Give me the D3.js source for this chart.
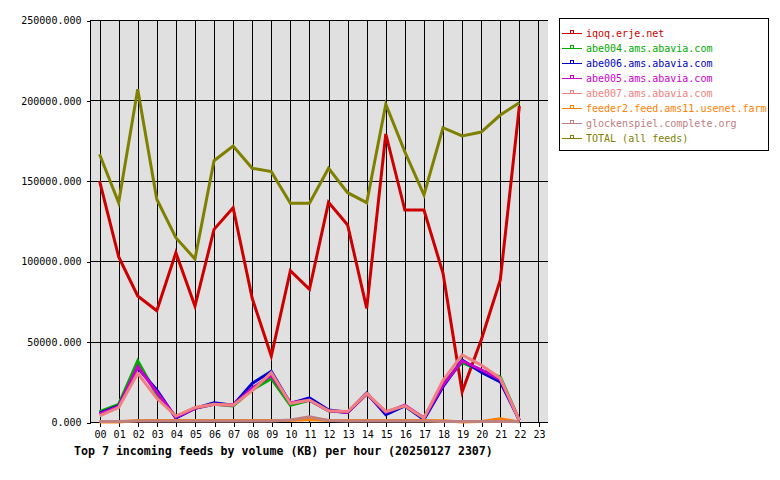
<!DOCTYPE html>
<html>
<head>
<meta charset="utf-8">
<script src="https://cdn.jsdelivr.net/npm/d3@7/dist/d3.min.js"></script>
<style>
  html, body { margin: 0; padding: 0; background: #fff; }
  svg { display: block; }
  text { font-family: "DejaVu Sans Mono", "Liberation Mono", monospace; }
</style>
</head>
<body>
<svg id="chart" width="780" height="480"></svg>
<script>
// ---------- data ----------
const hourLabels = ["00","01","02","03","04","05","06","07","08","09","10","11",
                    "12","13","14","15","16","17","18","19","20","21","22","23"];
const yTicks = [0, 50000, 100000, 150000, 200000, 250000];

const seriesNames = [
  "iqoq.erje.net",
  "abe004.ams.abavia.com",
  "abe006.ams.abavia.com",
  "abe005.ams.abavia.com",
  "abe007.ams.abavia.com",
  "feeder2.feed.ams11.usenet.farm",
  "glockenspiel.complete.org",
  "TOTAL (all feeds)"
];
const seriesColors = ["#cc0000","#00aa00","#0000cc","#cc00cc","#f08080","#ff8000","#c08080","#808000"];

const iqoq   = [150000,102800,78400,69200,105300,72100,119800,133300,76900,41000,94100,82500,
                136600,122500,70700,179100,131800,131800,92500,18800,51000,88300,196500];
const abe004 = [6500,11000,38000,17000,3500,8500,11000,10000,20000,27000,10400,13500,
                7000,6000,17500,6000,10000,2500,24000,37000,32000,28000,1000];
const abe006 = [5500,10000,33500,20000,2500,8500,12000,10500,24000,31500,11500,15000,
                7500,6000,18000,4500,10000,1500,22000,38500,31000,25000,1000];
const abe005 = [5000,9500,34500,18500,3000,8500,11000,10500,21000,29000,12000,13500,
                7000,6000,17500,6000,10500,2500,23000,38000,32500,26500,1000];
const abe007 = [3800,9000,30300,14700,3700,9000,11000,10500,19500,30700,11500,13700,
                7000,6500,17800,6500,10000,2500,26000,41700,35500,27200,1000];
const feeder2 = [0,0,1000,1000,1000,1000,1000,1000,1000,1000,1000,1500,
                 1000,1000,1000,1000,1000,1000,800,0,300,2000,0];
const glock   = [300,300,600,600,600,600,600,600,600,600,1200,3200,
                 900,600,600,600,600,600,300,300,300,300,300];
const total  = [166500,136400,207000,138500,114600,101400,162500,171600,157800,155700,136000,136000,
                157800,142600,136400,197600,168000,141200,183000,177900,180300,190900,198600];

const seriesValues = [iqoq, abe004, abe006, abe005, abe007, feeder2, glock, total];

const title = "Top 7 incoming feeds by volume (KB) per hour (20250127 2307)";

// ---------- layout ----------
const plot = { left: 90, right: 548, top: 20, bottom: 422 };
const svg = d3.select("#chart");

const x = d3.scaleLinear().domain([-0.5, 23.5]).range([plot.left, plot.right]);
const y = d3.scaleLinear().domain([0, 250000]).range([plot.bottom, plot.top]);

// background
svg.append("rect").attr("x", 0).attr("y", 0).attr("width", 780).attr("height", 480).attr("fill", "#fff");
svg.append("rect")
  .attr("x", plot.left).attr("y", plot.top)
  .attr("width", plot.right - plot.left).attr("height", plot.bottom - plot.top)
  .attr("fill", "#e0e0e0");

// grid
const grid = svg.append("g").attr("shape-rendering", "crispEdges").attr("stroke", "#000").attr("stroke-width", 1);
hourLabels.forEach((h, i) => {
  grid.append("line").attr("x1", Math.round(x(i)) + 0.5).attr("x2", Math.round(x(i)) + 0.5)
    .attr("y1", plot.top).attr("y2", plot.bottom);
});
yTicks.forEach(t => {
  grid.append("line").attr("x1", plot.left).attr("x2", plot.right)
    .attr("y1", Math.round(y(t)) + 0.5).attr("y2", Math.round(y(t)) + 0.5);
});
grid.append("line").attr("x1", plot.left + 0.5).attr("x2", plot.left + 0.5).attr("y1", plot.top).attr("y2", plot.bottom + 1);

// axes
const yAxis = d3.axisLeft(y).tickValues(yTicks).tickFormat(d3.format(".3f")).tickSize(4).tickPadding(5);
const gy = svg.append("g").attr("transform", `translate(${plot.left + 0.5},0.5)`).call(yAxis);
gy.select(".domain").remove();
gy.selectAll("text").attr("font-size", 10).attr("font-family", "DejaVu Sans Mono, monospace").attr("fill", "#000");
gy.selectAll("line").attr("stroke", "#000").attr("shape-rendering", "crispEdges");

const xAxis = d3.axisBottom(x).tickValues(d3.range(24)).tickFormat(i => hourLabels[i]).tickSize(4).tickPadding(4);
const gx = svg.append("g").attr("transform", `translate(0.5,${plot.bottom + 0.5})`).call(xAxis);
gx.select(".domain").remove();
gx.selectAll("text").attr("font-size", 10).attr("font-family", "DejaVu Sans Mono, monospace").attr("fill", "#000");
gx.selectAll("line").attr("stroke", "#000").attr("shape-rendering", "crispEdges");

// lines
const line = d3.line().x((d, i) => x(i)).y(d => y(d));
seriesValues.forEach((vals, k) => {
  svg.append("path")
    .datum(vals)
    .attr("d", line)
    .attr("fill", "none")
    .attr("stroke", seriesColors[k])
    .attr("stroke-width", 3)
    .attr("stroke-linejoin", "miter");
});

// title
svg.append("text")
  .attr("x", 74).attr("y", 455)
  .attr("font-size", 11.6).attr("font-weight", "bold")
  .attr("fill", "#000")
  .text(title);

// legend
const lg = svg.append("g");
lg.append("rect").attr("x", 559.5).attr("y", 18.5).attr("width", 209).attr("height", 132)
  .attr("fill", "#fff").attr("stroke", "#000").attr("shape-rendering", "crispEdges");
seriesNames.forEach((name, k) => {
  const cy = 33 + k * 15;
  lg.append("line").attr("x1", 562).attr("x2", 582).attr("y1", cy + 0.5).attr("y2", cy + 0.5)
    .attr("stroke", seriesColors[k]).attr("stroke-width", 1).attr("shape-rendering", "crispEdges");
  lg.append("rect").attr("x", 570.5).attr("y", cy - 2.5).attr("width", 3).attr("height", 3)
    .attr("fill", "none").attr("stroke", seriesColors[k]).attr("shape-rendering", "crispEdges");
  lg.append("text").attr("x", 586).attr("y", cy + 4)
    .attr("font-size", 10).attr("fill", seriesColors[k]).text(name);
});
</script>
</body>
</html>
